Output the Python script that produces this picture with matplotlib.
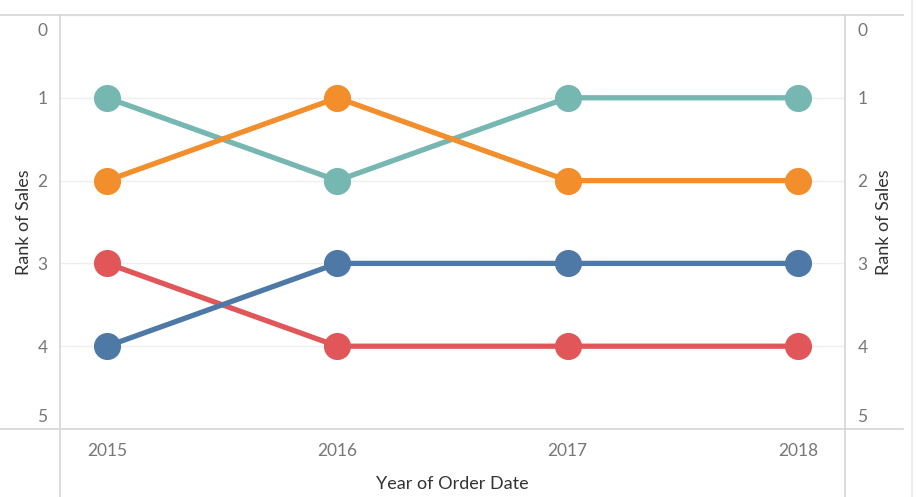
import matplotlib
matplotlib.use('Agg')
import matplotlib.pyplot as plt
from matplotlib.lines import Line2D
from matplotlib.transforms import ScaledTranslation

plt.rcParams['font.family'] = ['Lato', 'DejaVu Sans']

years = ['2015', '2016', '2017', '2018']
rank_teal = [1, 2, 1, 1]
rank_red = [3, 4, 4, 4]
rank_orange = [2, 1, 2, 2]
rank_blue = [4, 3, 3, 3]
rank_ticks = [0, 1, 2, 3, 4, 5]

W, H = 917, 497
fig = plt.figure(figsize=(W / 100, H / 100), dpi=100)
ax = fig.add_axes([60 / W, 1 - 429 / H, (845 - 60) / W, (429 - 15) / H])

x = list(range(len(years)))
series = [(rank_teal, '#76B7B2'), (rank_red, '#E15759'),
          (rank_orange, '#F28E2B'), (rank_blue, '#4E79A7')]
for vals, col in series:
    ax.plot(x, vals, color=col, lw=3.8, marker='o', ms=18.5,
            solid_capstyle='round', zorder=3)

ax.set_xlim(-0.205, 3.205)
ax.set_ylim(5, 0)
ax.yaxis.grid(True, color='#eeeeee', lw=1, zorder=0)

ax2 = ax.twinx()
ax2.set_ylim(5, 0)

for a in (ax, ax2):
    for s in a.spines.values():
        s.set_visible(False)
    a.set_yticks(rank_ticks)
    a.set_yticklabels([str(t) for t in rank_ticks])
    a.tick_params(axis='y', length=0, pad=9, labelsize=12.5, labelcolor='#777777')
    a.set_ylabel('Rank of Sales', fontsize=13, color='#333333')

ax.yaxis.labelpad = 4
ax2.yaxis.labelpad = 6

# edge labels sit inside the frame, as in the dashboard
fig.canvas.draw()
for a in (ax, ax2):
    for t in a.yaxis.get_major_ticks():
        if t.get_loc() == 0:
            dy = -15 / 100
        elif t.get_loc() == 5:
            dy = 14 / 100
        else:
            continue
        for lab in (t.label1, t.label2):
            lab.set_transform(lab.get_transform() + ScaledTranslation(0, dy, fig.dpi_scale_trans))

ax.set_xticks(x)
ax.set_xticklabels(years)
ax.tick_params(axis='x', length=0, pad=10, labelsize=12.5, labelcolor='#777777')
ax.set_xlabel('Year of Order Date', fontsize=13, color='#333333', labelpad=12)

# frame lines like the dashboard view
lc = '#d6d6d6'
fig.add_artist(Line2D([0, 903 / W], [1 - 15 / H] * 2, color=lc, lw=1.2))
fig.add_artist(Line2D([0, 903 / W], [1 - 429 / H] * 2, color=lc, lw=1.2))
fig.add_artist(Line2D([60 / W] * 2, [0, 1 - 15 / H], color=lc, lw=1.2))
fig.add_artist(Line2D([845 / W] * 2, [0, 1 - 15 / H], color=lc, lw=1.2))
fig.add_artist(Line2D([912 / W] * 2, [0, 1], color='#eeeeee', lw=1.5))

fig.savefig('out.png', dpi=100)
